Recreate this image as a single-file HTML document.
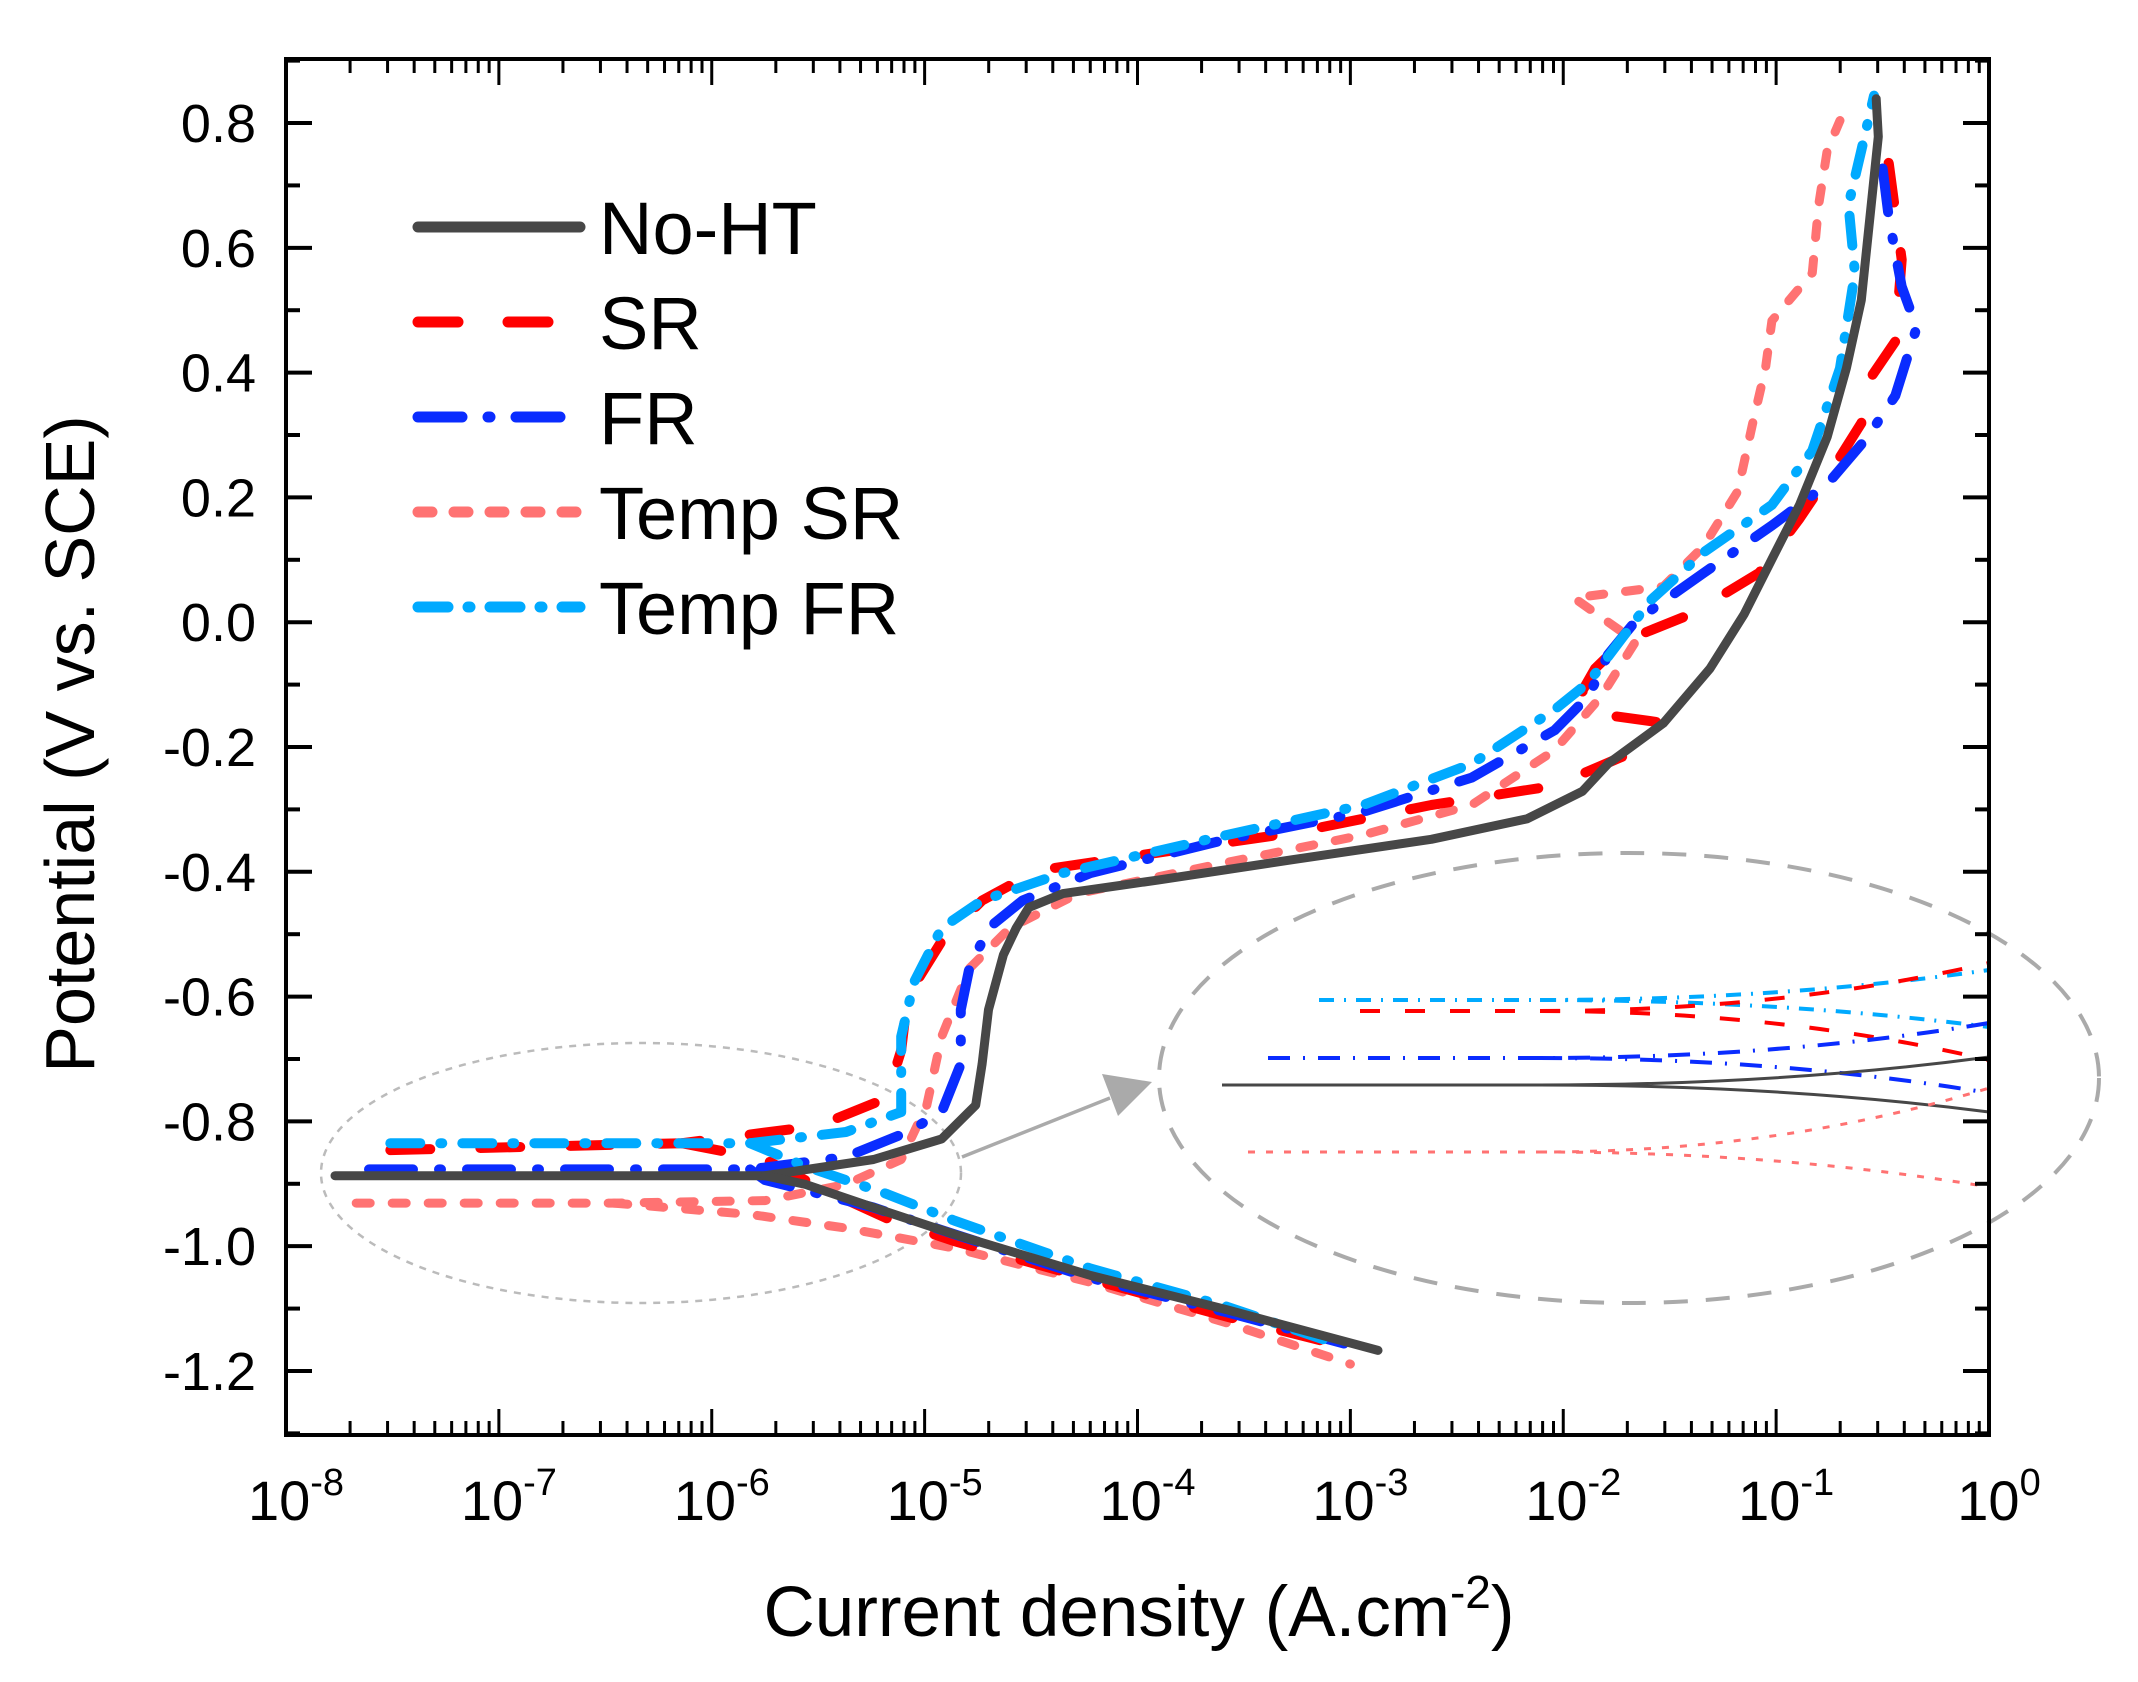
<!DOCTYPE html>
<html><head><meta charset="utf-8"><style>
html,body{margin:0;padding:0;background:#fff;}
svg{display:block;font-family:"Liberation Sans",Arial,sans-serif;}
</style></head><body>
<svg id="chart" width="2138" height="1682" viewBox="0 0 2138 1682" xmlns="http://www.w3.org/2000/svg">
<g id="plot"></g>
<g id="axes"></g>
<text x="0" y="0" transform="translate(94,744) rotate(-90)" text-anchor="middle" font-size="70">Potential (V vs. SCE)</text>
<text x="1139" y="1636" text-anchor="middle" font-size="71">Current density (A.cm<tspan dy="-28" font-size="46">-2</tspan><tspan dy="28">)</tspan></text>
<g id="legend"></g>
</svg>
<script>
// ---- data (log10 current density, potential V) ----
const xTickExps = [-8,-7,-6,-5,-4,-3,-2,-1,0];
const yTickVals = [0.8,0.6,0.4,0.2,0.0,-0.2,-0.4,-0.6,-0.8,-1.0,-1.2];
const yTickLabels = ["0.8","0.6","0.4","0.2","0.0","-0.2","-0.4","-0.6","-0.8","-1.0","-1.2"];
const seriesNames = ["No-HT","SR","FR","Temp SR","Temp FR"];
const noHTAnodicLogI = [-7.77,-5.75,-5.24,-4.92,-4.76,-4.73,-4.70,-4.63,-4.57,-4.51,-4.35,-3.90,-3.26,-2.62,-2.17,-1.91,-1.79,-1.53,-1.31,-1.15,-1.02,-0.89,-0.76,-0.67,-0.60,-0.56,-0.52,-0.53];
const noHTAnodicE = [-0.887,-0.887,-0.861,-0.828,-0.774,-0.708,-0.621,-0.533,-0.490,-0.457,-0.435,-0.413,-0.380,-0.348,-0.315,-0.271,-0.227,-0.162,-0.074,0.013,0.101,0.188,0.297,0.407,0.516,0.647,0.778,0.839];
const noHTCathLogI = [-5.75,-5.56,-5.24,-4.86,-4.22,-3.58,-2.87];
const noHTCathE = [-0.887,-0.901,-0.938,-0.981,-1.047,-1.102,-1.167];
const srAnodicLogI = [-7.51,-6.14,-5.50,-5.18,-5.11,-5.08,-4.92,-4.73,-4.47,-3.90,-3.26,-2.62,-2.04,-1.72,-1.56,-1.88,-1.91,-1.85,-1.72,-1.40,-1.08,-0.89,-0.76,-0.60,-0.57,-0.44,-0.41,-0.47,-0.51];
const srAnodicE = [-0.846,-0.835,-0.807,-0.763,-0.686,-0.599,-0.511,-0.446,-0.398,-0.369,-0.337,-0.293,-0.262,-0.215,-0.160,-0.145,-0.110,-0.074,-0.031,0.013,0.079,0.166,0.232,0.319,0.385,0.450,0.581,0.734,0.811];
const srCathLogI = [-6.14,-5.75,-5.50,-5.18,-4.86,-4.22,-3.58,-3.00];
const srCathE = [-0.835,-0.861,-0.905,-0.955,-0.992,-1.053,-1.113,-1.163];
const frAnodicLogI = [-7.61,-5.82,-5.37,-5.08,-4.92,-4.83,-4.83,-4.79,-4.70,-4.54,-4.22,-3.58,-2.94,-2.43,-2.04,-1.88,-1.79,-1.66,-1.34,-1.02,-0.76,-0.57,-0.44,-0.34,-0.41,-0.47,-0.51];
const frAnodicE = [-0.877,-0.877,-0.857,-0.817,-0.785,-0.708,-0.621,-0.555,-0.490,-0.446,-0.402,-0.348,-0.304,-0.249,-0.173,-0.118,-0.052,0.002,0.079,0.155,0.221,0.297,0.363,0.472,0.538,0.647,0.756];
const frCathLogI = [-5.82,-5.75,-5.24,-4.86,-4.22,-3.58,-3.03];
const frCathE = [-0.877,-0.894,-0.938,-0.981,-1.051,-1.106,-1.156];
const tsrAnodicLogI = [-7.67,-6.46,-5.75,-5.37,-5.11,-4.99,-4.92,-4.79,-4.60,-4.28,-3.58,-2.94,-2.43,-2.04,-1.82,-1.66,-1.95,-1.53,-1.34,-1.18,-1.11,-1.05,-1.02,-0.83,-0.80,-0.76,-0.70];
const tsrAnodicE = [-0.931,-0.931,-0.927,-0.901,-0.861,-0.774,-0.664,-0.555,-0.490,-0.435,-0.385,-0.341,-0.293,-0.205,-0.118,-0.031,0.039,0.057,0.122,0.210,0.319,0.407,0.483,0.560,0.669,0.756,0.804];
const tsrCathLogI = [-6.46,-5.82,-5.37,-4.86,-4.22,-3.58,-3.00];
const tsrCathE = [-0.931,-0.949,-0.971,-1.003,-1.058,-1.123,-1.189];
const tfrAnodicLogI = [-7.51,-5.82,-5.37,-5.11,-5.11,-5.05,-4.92,-4.73,-4.35,-3.58,-2.94,-2.43,-2.04,-1.88,-1.76,-1.59,-1.34,-1.02,-0.83,-0.70,-0.63,-0.66,-0.60,-0.54];
const tfrAnodicE = [-0.835,-0.835,-0.817,-0.785,-0.664,-0.577,-0.490,-0.446,-0.402,-0.341,-0.293,-0.227,-0.140,-0.096,-0.042,0.035,0.112,0.188,0.275,0.407,0.560,0.669,0.756,0.844];
const tfrCathLogI = [-5.82,-5.56,-5.18,-4.86,-4.22,-3.58,-3.07];
const tfrCathE = [-0.835,-0.872,-0.916,-0.959,-1.036,-1.097,-1.156];

const NS = "http://www.w3.org/2000/svg";
const X0 = 286, X1 = 1989, Y0 = 59, Y1 = 1435;
const xMin = -8, xMax = 0, yMin = -1.3026, yMax = 0.9026;
function xs(l){ return X0 + (l - xMin) / (xMax - xMin) * (X1 - X0); }
function ys(v){ return Y1 - (v - yMin) / (yMax - yMin) * (Y1 - Y0); }
function mk(tag, attrs, parent){
  const e = document.createElementNS(NS, tag);
  for (const k in attrs) e.setAttribute(k, attrs[k]);
  parent.appendChild(e); return e;
}
const plot = document.getElementById('plot');
const axes = document.getElementById('axes');
const legend = document.getElementById('legend');

let el = mk('ellipse',{cx:641,cy:1173,rx:320,ry:130,fill:'none',stroke:'#bbb','stroke-width':2.5,'stroke-dasharray':'7 7'},plot);


el = mk('ellipse',{cx:1629,cy:1078,rx:470,ry:225,fill:'none',stroke:'#aaa','stroke-width':4,'stroke-dasharray':'24 18'},plot);


el = mk('line',{x1:962,y1:1157,x2:1110,y2:1098,stroke:'#aaa','stroke-width':3.5},plot);


el = mk('polygon',{points:'1152,1082 1102,1074 1118,1116',fill:'#aaa'},plot);



const styles = [
  {c:'#474747',w:9,d:''},
  {c:'#ff0000',w:10,d:'40 50'},
  {c:'#0a2cff',w:10,d:'44 26 2 26'},
  {c:'#ff7272',w:9,d:'14 22'},
  {c:'#00aaff',w:10,d:'30 20 2 20'}
];
function pts(lx, ey){ return lx.map((l,i)=>xs(l).toFixed(1)+','+ys(ey[i]).toFixed(1)).join(' '); }
const sets = [
  [noHTAnodicLogI,noHTAnodicE,noHTCathLogI,noHTCathE],
  [srAnodicLogI,srAnodicE,srCathLogI,srCathE],
  [frAnodicLogI,frAnodicE,frCathLogI,frCathE],
  [tsrAnodicLogI,tsrAnodicE,tsrCathLogI,tsrCathE],
  [tfrAnodicLogI,tfrAnodicE,tfrCathLogI,tfrCathE]
];
const order = [3,1,2,4,0];
order.forEach(i=>{
  const s = styles[i], d = sets[i];
  const g = mk('g',{},plot);
  
  
  const a = mk('polyline',{points:pts(d[0],d[1]),fill:'none',stroke:s.c,'stroke-width':s.w,'stroke-dasharray':s.d,'stroke-linecap':'round','stroke-linejoin':'round'},g);
  
  
  const c = mk('polyline',{points:pts(d[2],d[3]),fill:'none',stroke:s.c,'stroke-width':s.w,'stroke-dasharray':s.d,'stroke-linecap':'round','stroke-linejoin':'round'},g);
  
  
});

const inset = mk('g',{},plot);


const insetDefs = [
  {i:4,x:1319,y:1000,u:970,l:1027,w:4},
  {i:1,x:1360,y:1011,u:963,l:1060,w:4},
  {i:2,x:1268,y:1058,u:1023,l:1093,w:4},
  {i:0,x:1222,y:1085,u:1057,l:1112,w:3},
  {i:3,x:1248,y:1152,u:1088,l:1187,w:3}
];
insetDefs.forEach(o=>{
  const s = styles[o.i];
  const dash = s.d ? s.d.split(' ').map(v=>Math.max(2,v*0.5)).join(' ') : '';
  const p1 = `M${o.x},${o.y} L1540,${o.y} Q1780,${o.y} 1989,${o.u}`;
  const p2 = `M1540,${o.y} Q1780,${o.y} 1989,${o.l}`;
  let e1 = mk('path',{d:p1,fill:'none',stroke:s.c,'stroke-width':o.w,'stroke-dasharray':dash},inset);
  
  
  let e2 = mk('path',{d:p2,fill:'none',stroke:s.c,'stroke-width':o.w,'stroke-dasharray':dash},inset);
  
  
});

let fr = mk('rect',{x:X0,y:Y0,width:X1-X0,height:Y1-Y0,fill:'none',stroke:'#000','stroke-width':4},axes);


for (let v=-1.3; v<=0.9001; v+=0.1){
  const vv = Math.round(v*10)/10;
  const major = Math.abs(Math.round(vv*10)%2)===0;
  const L = major?26:14, y = ys(vv);
  mk('line',{x1:X0,y1:y,x2:X0+L,y2:y,stroke:'#000','stroke-width':4},axes);
  mk('line',{x1:X1,y1:y,x2:X1-L,y2:y,stroke:'#000','stroke-width':4},axes);
}
yTickVals.forEach((v,i)=>{
  const t = mk('text',{x:256,y:ys(v)+19,'text-anchor':'end','font-size':54},axes);
  t.textContent = yTickLabels[i];
  
  
});
xTickExps.forEach((e,k)=>{
  const x = xs(e);
  mk('line',{x1:x,y1:Y1,x2:x,y2:Y1-26,stroke:'#000','stroke-width':3},axes);
  mk('line',{x1:x,y1:Y0,x2:x,y2:Y0+26,stroke:'#000','stroke-width':3},axes);
  if (k < xTickExps.length-1){
    for (let m=2;m<=9;m++){
      const xm = xs(e+Math.log10(m));
      mk('line',{x1:xm,y1:Y1,x2:xm,y2:Y1-14,stroke:'#000','stroke-width':3},axes);
      mk('line',{x1:xm,y1:Y0,x2:xm,y2:Y0+14,stroke:'#000','stroke-width':3},axes);
    }
  }
  const t = mk('text',{x:x+10,y:1520,'text-anchor':'middle','font-size':56},axes);
  
  
  const b = mk('tspan',{},t); b.textContent='10';
  const s = mk('tspan',{dy:-25,'font-size':38}, t); s.textContent = String(e);
});

const legY = [227,322,417,512,607];
seriesNames.forEach((n,i)=>{
  const g = mk('g',{},legend);
  
  
  const s = styles[i];
  mk('line',{x1:418,y1:legY[i],x2:580,y2:legY[i],stroke:s.c,'stroke-width':11,'stroke-dasharray':s.d,'stroke-linecap':'round'},g);
  const t = mk('text',{x:599,y:legY[i]+27,'font-size':74},g);
  t.textContent = n;
});
</script>
</body></html>
